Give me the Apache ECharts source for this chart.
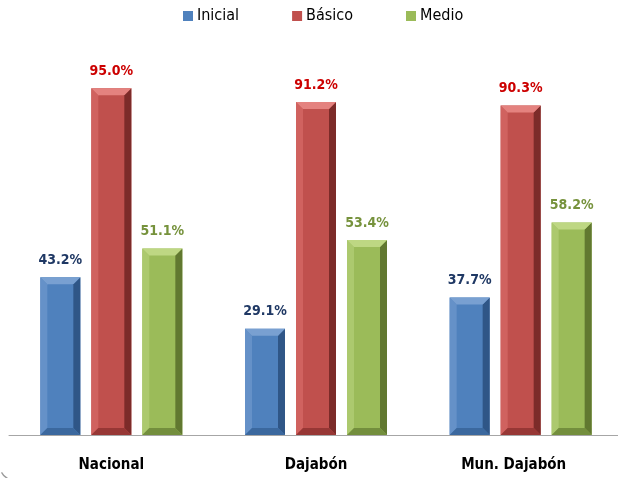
<!DOCTYPE html>
<html>
<head>
<meta charset="utf-8">
<script src="https://cdn.jsdelivr.net/npm/echarts@6/dist/echarts.min.js"></script>
<style>html,body{margin:0;padding:0;background:#fff;overflow:hidden}#c{width:632px;height:478px}</style>
</head>
<body>
<div id="c"></div>
<script>
const categories = ['Nacional', 'Dajabón', 'Mun. Dajabón'];
const seriesNames = ['Inicial', 'Básico', 'Medio'];
const inicial = [43.2, 29.1, 37.7];
const basico = [95.0, 91.2, 90.3];
const medio = [51.1, 53.4, 58.2];

const values = [inicial, basico, medio];
const colors = ['#4F81BD', '#C0504D', '#9BBB59'];
const labelColors = ['#1F3864', '#CC0000', '#76923C'];
const bevelLight = ['#79A0D1', '#E4827F', '#BED783'];
const bevelLeft = ['#6591C8', '#D0625F', '#ACC96E'];
const bevelDark = ['#2F5687', '#7C2B29', '#617830'];
const bevelBottom = ['#3B689E', '#973735', '#738E3D'];
const FONT = 'DejaVu Sans Condensed';
const BAR_W = 40, STEP = 51, B = 7;

const chart = echarts.init(document.getElementById('c'), null, {renderer: 'canvas'});

const barSeries = values.map((v, s) => ({
  name: seriesNames[s],
  type: 'bar',
  data: v,
  barWidth: BAR_W,
  barGap: '27.5%',
  itemStyle: {color: colors[s]},
  label: {
    show: true, position: 'top', distance: 10,
    formatter: p => p.value.toFixed(1) + '%',
    color: labelColors[s], fontFamily: FONT, fontWeight: 'bold', fontSize: 14
  },
  z: 2
}));

const bevelData = [];
values.forEach((v, s) => v.forEach((val, i) => bevelData.push([i, val, s])));

const bevelSeries = {
  type: 'custom',
  silent: true,
  z: 3,
  data: bevelData,
  renderItem: function (params, api) {
    const cat = api.value(0), val = api.value(1), s = api.value(2);
    const top = api.coord([cat, val]);
    const base = api.coord([cat, 0]);
    const cx = top[0] + (s - 1) * STEP;
    const x0 = cx - BAR_W / 2, x1 = cx + BAR_W / 2;
    const y0 = top[1], y1 = base[1];
    const poly = (pts, fill) => ({type: 'polygon', shape: {points: pts}, style: {fill: fill}});
    return {
      type: 'group',
      children: [
        poly([[x0, y0], [x0 + B, y0 + B], [x0 + B, y1 - B], [x0, y1]], bevelLeft[s]),
        poly([[x1, y0], [x1, y1], [x1 - B, y1 - B], [x1 - B, y0 + B]], bevelDark[s]),
        poly([[x0, y1], [x0 + B, y1 - B], [x1 - B, y1 - B], [x1, y1]], bevelBottom[s]),
        poly([[x0, y0], [x1, y0], [x1 - B, y0 + B], [x0 + B, y0 + B]], bevelLight[s])
      ]
    };
  }
};

chart.setOption({
  animation: false,
  color: colors,
  legend: {
    data: seriesNames,
    left: 183, top: 8, padding: 0,
    itemWidth: 10, itemHeight: 10, itemGap: 53,
    icon: 'rect',
    textStyle: {fontFamily: FONT, fontSize: 16, color: '#000', padding: [0, 0, 0, -1]}
  },
  grid: {left: 9, width: 614, top: 70, bottom: 43, containLabel: false},
  xAxis: {
    type: 'category',
    data: categories.map((c, i) => i === 2 ? {value: c, textStyle: {padding: [0, 14, 0, 0]}} : c),
    axisLine: {show: true, lineStyle: {color: '#A6A6A6', width: 1}},
    axisTick: {show: false},
    axisLabel: {margin: 23, fontFamily: FONT, fontWeight: 'bold', fontSize: 15, color: '#000'}
  },
  yAxis: {
    type: 'value', min: 0, max: 100, show: false,
    splitLine: {show: false}
  },
  graphic: [{
    type: 'arc', silent: true,
    shape: {cx: 14, cy: 466, r: 14, startAngle: Math.PI * 0.62, endAngle: Math.PI * 0.85},
    style: {stroke: '#9A9A9A', lineWidth: 1.2, fill: null}
  }],
  series: barSeries.concat([bevelSeries])
});
</script>
</body>
</html>
